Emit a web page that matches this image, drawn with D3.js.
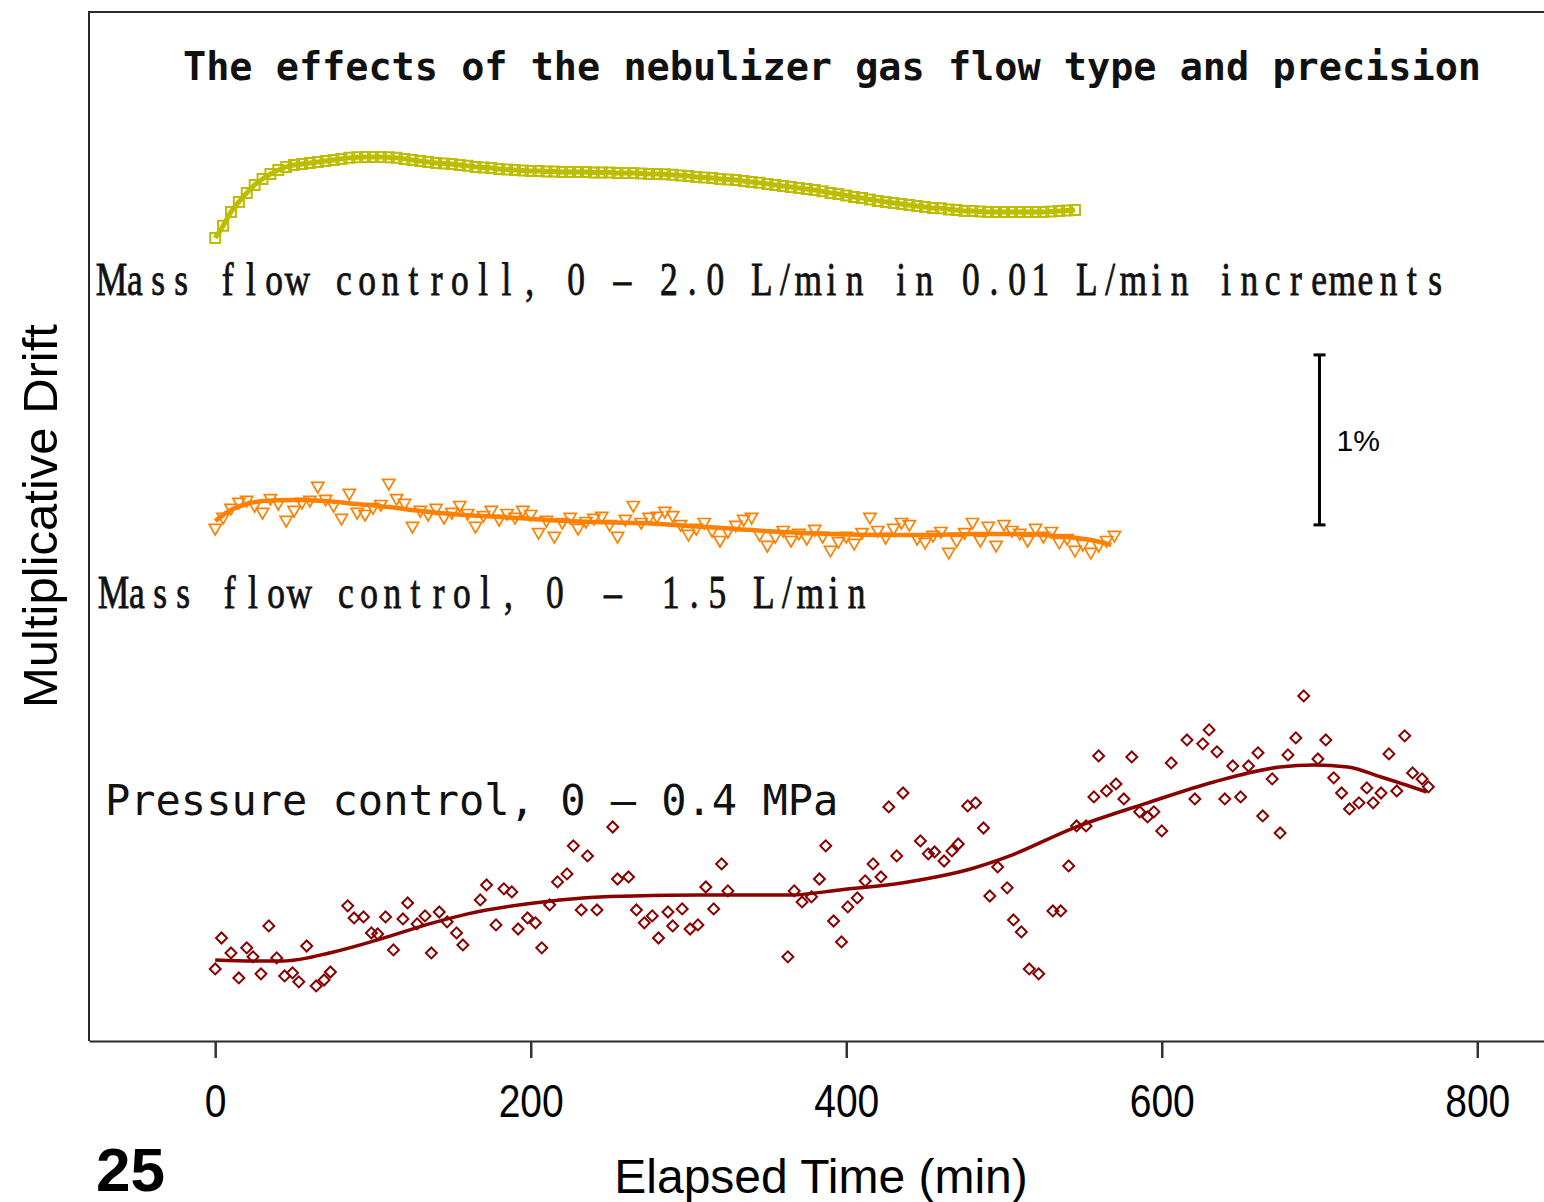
<!DOCTYPE html>
<html><head><meta charset="utf-8">
<script src="https://cdn.jsdelivr.net/npm/d3@7"></script>
<style>body{margin:0;background:#fff;} svg{display:block;} text{white-space:pre;}</style>
</head><body>
<script>
// ---------- DATA (drift in %, relative to each series' baseline) ----------
const xTicks = [0, 200, 400, 600, 800];

// Series 1: Mass flow control 0-2.0 L/min in 0.01 L/min increments (squares)
const s1Time = [0,5,10,15,20,25,30,35,40,45,50,55,60,65,70,75,80,85,90,95,100,105,110,115,120,125,130,135,140,145,150,155,160,165,170,175,180,185,190,195,200,205,210,215,220,225,230,235,240,245,250,255,260,265,270,275,280,285,290,295,300,305,310,315,320,325,330,335,340,345,350,355,360,365,370,375,380,385,390,395,400,405,410,415,420,425,430,435,440,445,450,455,460,465,470,475,480,485,490,495,500,505,510,515,520,525,530,535,540,545];
const s1Drift = [0.000,0.071,0.153,0.212,0.265,0.312,0.347,0.376,0.400,0.418,0.429,0.435,0.441,0.447,0.453,0.459,0.465,0.471,0.474,0.476,0.476,0.476,0.474,0.471,0.465,0.459,0.453,0.447,0.441,0.438,0.435,0.429,0.424,0.418,0.415,0.412,0.406,0.403,0.400,0.397,0.394,0.394,0.391,0.391,0.388,0.388,0.388,0.388,0.385,0.385,0.385,0.382,0.382,0.382,0.379,0.376,0.376,0.374,0.371,0.368,0.365,0.359,0.356,0.353,0.347,0.344,0.341,0.335,0.329,0.324,0.318,0.312,0.306,0.300,0.294,0.288,0.282,0.274,0.265,0.259,0.250,0.241,0.235,0.226,0.218,0.212,0.206,0.200,0.194,0.188,0.182,0.176,0.174,0.168,0.165,0.159,0.159,0.156,0.153,0.153,0.153,0.153,0.153,0.153,0.153,0.153,0.156,0.159,0.162,0.165];

// Series 2: Mass flow control 0-1.5 L/min (down triangles) + fit line
const s2Time = [0,5,10,15,20,25,30,35,40,45,50,55,60,65,70,75,80,85,90,95,100,105,110,115,120,125,130,135,140,145,150,155,160,165,170,175,180,185,190,195,200,205,210,215,220,225,230,235,240,245,250,255,260,265,270,275,280,285,290,295,300,305,310,315,320,325,330,335,340,345,350,355,360,365,370,375,380,385,390,395,400,405,410,415,420,425,430,435,440,445,450,455,460,465,470,475,480,485,490,495,500,505,510,515,520,525,530,535,540,545,550,555,560,565,570];
const s2Drift = [-0.047,0.018,0.071,0.106,0.118,0.088,0.047,0.129,0.100,0.000,0.059,0.106,0.118,0.200,0.124,0.088,0.012,0.159,0.047,0.035,0.076,0.094,0.218,0.129,0.100,-0.035,0.059,0.035,0.071,0.018,0.047,0.088,0.041,-0.035,0.029,0.059,0.006,0.041,0.018,0.059,0.035,-0.071,0.000,-0.094,-0.012,0.018,-0.047,-0.006,0.012,0.024,-0.024,-0.094,0.006,0.088,-0.012,0.018,0.024,0.053,0.029,-0.024,-0.082,-0.047,-0.012,-0.059,-0.118,-0.065,-0.029,0.006,0.018,-0.082,-0.147,-0.094,-0.059,-0.118,-0.076,-0.106,-0.053,-0.094,-0.176,-0.124,-0.094,-0.135,-0.071,0.018,-0.059,-0.100,-0.047,-0.012,-0.024,-0.106,-0.129,-0.088,-0.065,-0.188,-0.118,-0.071,-0.012,-0.118,-0.035,-0.147,-0.024,-0.059,-0.076,-0.118,-0.047,-0.094,-0.065,-0.129,-0.106,-0.176,-0.141,-0.188,-0.147,-0.118,-0.088];
const s2FitTime = [0,10,20,30,50,70,90,110,130,150,180,210,240,270,300,330,360,390,420,450,480,510,540,555,568];
const s2FitDrift = [-0.006,0.059,0.094,0.112,0.118,0.112,0.094,0.076,0.053,0.035,0.018,0.000,-0.012,-0.018,-0.035,-0.053,-0.071,-0.082,-0.088,-0.088,-0.082,-0.082,-0.100,-0.118,-0.147];

// Series 3: Pressure control 0-0.4 MPa (diamonds) + fit line
const s3Time = [0,4,10,15,20,24,29,34,39,44,49,53,58,64,69,73,84,88,94,99,103,108,113,119,122,128,133,137,142,147,153,157,168,172,178,183,188,192,198,203,207,212,217,223,227,232,236,242,252,255,262,267,272,277,281,287,290,296,301,306,311,316,321,325,363,367,372,378,383,387,392,397,401,407,412,417,422,427,432,436,447,452,456,462,467,471,477,482,487,491,496,502,506,511,516,522,531,536,541,546,552,557,560,565,571,576,581,586,591,595,600,606,616,621,626,630,635,640,645,650,655,661,664,670,675,680,685,690,699,704,709,714,719,725,730,734,739,744,749,754,759,765,769];
const s3Drift = [-0.053,0.129,0.041,-0.106,0.071,0.018,-0.082,0.200,0.012,-0.094,-0.076,-0.129,0.082,-0.153,-0.118,-0.071,0.318,0.247,0.253,0.159,0.153,0.253,0.059,0.241,0.335,0.212,0.259,0.041,0.282,0.224,0.159,0.088,0.353,0.441,0.206,0.418,0.400,0.182,0.247,0.218,0.071,0.324,0.459,0.506,0.671,0.294,0.612,0.294,0.782,0.476,0.488,0.294,0.218,0.259,0.129,0.282,0.200,0.300,0.182,0.206,0.429,0.300,0.565,0.406,0.018,0.406,0.341,0.371,0.476,0.671,0.229,0.106,0.312,0.365,0.465,0.565,0.488,0.900,0.612,0.982,0.700,0.624,0.635,0.582,0.641,0.682,0.906,0.924,0.776,0.376,0.547,0.424,0.235,0.165,-0.053,-0.082,0.288,0.288,0.553,0.788,0.788,0.959,1.200,0.994,1.035,0.947,1.194,0.871,0.841,0.871,0.759,1.159,1.294,0.947,1.271,1.353,1.224,0.947,1.141,0.959,1.141,1.218,0.847,1.065,0.747,1.206,1.306,1.553,1.182,1.294,1.071,0.982,0.888,0.924,1.012,0.924,0.982,1.212,0.994,1.318,1.100,1.065,1.018];
const s3FitTime = [0,24,43,75,103,138,160,202,233,265,307,365,396,439,481,502,544,591,633,675,696,718,739,768];
const s3FitDrift = [0.000,-0.006,-0.006,0.047,0.118,0.218,0.271,0.335,0.365,0.376,0.382,0.382,0.412,0.459,0.541,0.606,0.776,0.924,1.047,1.135,1.147,1.135,1.076,0.988];

// 1% scale bar
const scaleBarTime = 700;
const scaleBarSpan = 1; // percent

// ---------- LAYOUT ----------
const W = 1544, H = 1202;
const svg = d3.select("body").append("svg").attr("width", W).attr("height", H);

const x = d3.scaleLinear().domain([-80, 842.3]).range([89, 1544]);
const y = d3.scaleLinear().domain([0, 6]).range([1040, 20]);   // percent units, stacked
const offsets = {s1: 4.718, s2: 3.059, s3: 0.471, bar: 3.03};

// frame (left + top)
svg.append("path").attr("d", `M${x(-80)},${y(0)+1}V12H${W+20}`)
  .attr("fill", "none").attr("stroke", "#2a2a2a").attr("stroke-width", 2);

// x axis
const axis = svg.append("g").attr("transform", `translate(0,${y(0)+1})`)
  .call(d3.axisBottom(x).tickValues(xTicks).tickSize(17).tickSizeOuter(0).tickPadding(26).tickFormat(d3.format("d")));
axis.select(".domain").attr("stroke", "#2a2a2a").attr("stroke-width", 2);
axis.selectAll(".tick line").attr("stroke", "#333").attr("stroke-width", 2.5);
axis.selectAll(".tick text").attr("fill", "#000").attr("transform", "scale(0.83,1)")
  .style("font-family", "'Liberation Sans',Arial,sans-serif").style("font-size", "47px");

// axis labels
svg.append("text").attr("x", 821).attr("y", 1193).attr("text-anchor", "middle")
  .style("font-family", "'Liberation Sans',Arial,sans-serif").style("font-size", "48px").text("Elapsed Time (min)");
svg.append("text").attr("transform", "translate(57,516) rotate(-90)").attr("text-anchor", "middle")
  .style("font-family", "'Liberation Sans',Arial,sans-serif").style("font-size", "49px").text("Multiplicative Drift");
svg.append("text").attr("x", 96).attr("y", 1191)
  .style("font-family", "'Liberation Sans',Arial,sans-serif").style("font-size", "62px").style("font-weight", "bold").text("25");

// title
svg.append("text").attr("x", 183).attr("y", 80)
  .style("font-family", "'DejaVu Sans Mono',monospace").style("font-size", "38.5px").style("font-weight", "bold")
  .attr("fill", "#111").text("The effects of the nebulizer gas flow type and precision");

// series labels: serif text laid on a fixed character grid (each glyph centred in its cell)
function gridText(str, x0, base, cell, wide, sx) {
  let col = 0;
  const xs = Array.from(str).map(c => {
    const w = wide.includes(c) ? 2 : 1;
    const cx = (x0 + cell * (col + w / 2)) / sx;
    col += w;
    return cx.toFixed(2);
  });
  return svg.append("text").attr("transform", `translate(0,${base}) scale(${sx},1)`)
    .attr("x", xs.join(" ")).attr("y", 0).attr("text-anchor", "middle")
    .style("font-family", "'Liberation Serif','Times New Roman',serif").style("font-size", "46px")
    .attr("fill", "#111").attr("stroke", "#111").attr("stroke-width", 0.8)
    .text(str);
}
gridText("Mass flow controll, 0 – 2.0 L/min in 0.01 L/min increments", 100, 295, 23.22, "", 0.77);
gridText("Mass flow control, 0 – 1.5 L/min", 102, 608, 23.22, "–", 0.77);

svg.append("text").attr("x", 105).attr("y", 815)
  .style("font-family", "'DejaVu Sans Mono',monospace").style("font-size", "42px").attr("fill", "#111")
  .text("Pressure control, 0 – 0.4 MPa");

// ---------- SERIES ----------
const pts = (ts, vs, off) => d3.zip(ts, vs).map(([t, v]) => ({t, v: v + off}));
const lineGen = d3.line().x(d => x(d.t)).y(d => y(d.v)).curve(d3.curveMonotoneX);

const s1 = pts(s1Time, s1Drift, offsets.s1);
const s2 = pts(s2Time, s2Drift, offsets.s2);
const s2f = pts(s2FitTime, s2FitDrift, offsets.s2);
const s3 = pts(s3Time, s3Drift, offsets.s3);
const s3f = pts(s3FitTime, s3FitDrift, offsets.s3);

const c1 = "#bdbd00", c2 = "#ff8000", c3 = "#880000";

// series 1 squares
svg.append("g").selectAll("path").data(s1).join("path")
  .attr("d", d3.symbol(d3.symbolSquare, 100)())
  .attr("transform", d => `translate(${x(d.t)},${y(d.v)})`)
  .attr("fill", "none").attr("stroke", c1).attr("stroke-width", 2);
svg.append("path").datum(s1).attr("d", lineGen).attr("fill", "none").attr("stroke", c1).attr("stroke-width", 5);

// series 2 triangles
svg.append("g").selectAll("path").data(s2).join("path")
  .attr("d", d3.symbol(d3.symbolTriangle, 64)())
  .attr("transform", d => `translate(${x(d.t)},${y(d.v)}) rotate(180)`)
  .attr("fill", "none").attr("stroke", c2).attr("stroke-width", 1.7);
svg.append("path").datum(s2f).attr("d", lineGen).attr("fill", "none").attr("stroke", c2).attr("stroke-width", 4.5);

// series 3 diamonds
svg.append("g").selectAll("path").data(s3).join("path")
  .attr("d", d3.symbol(d3.symbolSquare, 60)())
  .attr("transform", d => `translate(${x(d.t)},${y(d.v)}) rotate(45)`)
  .attr("fill", "none").attr("stroke", c3).attr("stroke-width", 2);
svg.append("path").datum(s3f).attr("d", lineGen).attr("fill", "none").attr("stroke", c3).attr("stroke-width", 3.5);

// 1% scale bar
const bx = x(scaleBarTime), by0 = y(offsets.bar), by1 = y(offsets.bar + scaleBarSpan);
const bar = svg.append("g").attr("stroke", "#000").attr("stroke-width", 3);
bar.append("line").attr("x1", bx).attr("x2", bx).attr("y1", by0).attr("y2", by1);
bar.append("line").attr("x1", bx - 6).attr("x2", bx + 6).attr("y1", by0).attr("y2", by0);
bar.append("line").attr("x1", bx - 6).attr("x2", bx + 6).attr("y1", by1).attr("y2", by1);
svg.append("text").attr("x", bx + 17).attr("y", (by0 + by1) / 2 + 11)
  .style("font-family", "'Liberation Sans',Arial,sans-serif").style("font-size", "30px").text("1%");
</script>
</body></html>
